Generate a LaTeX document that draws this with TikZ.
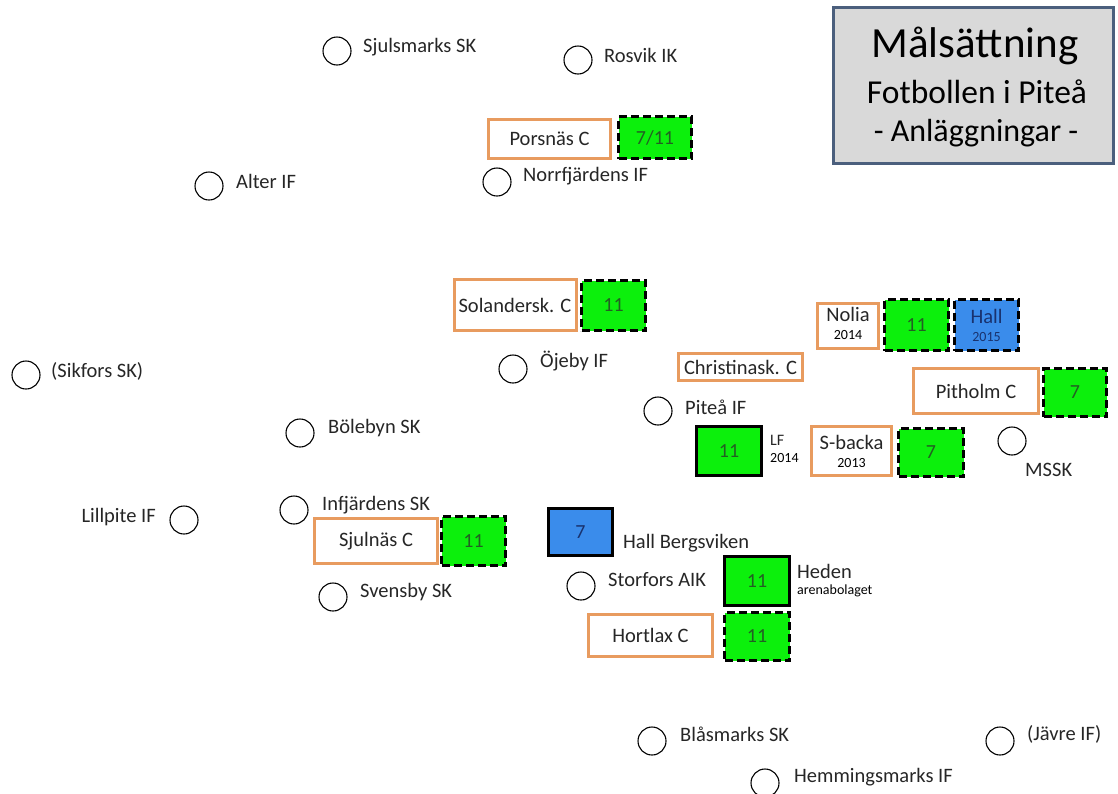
\documentclass[tikz,border=0pt]{standalone}
\usepackage{fontspec}
\setmainfont{Carlito}
\definecolor{centreorange}{RGB}{232,155,95}
\definecolor{fieldgreen}{RGB}{12,240,12}
\definecolor{hallblue}{RGB}{58,140,235}
\definecolor{numgreen}{RGB}{35,95,35}
\definecolor{numblue}{RGB}{25,50,110}
\definecolor{titlegray}{RGB}{217,217,217}
\definecolor{titleframe}{RGB}{75,95,125}

\begin{document}
\begin{tikzpicture}[x=1pt,y=-1pt,
        club/.style={circle, draw, line width=1.1pt, minimum size=28pt, inner sep=0pt},
        clubname/.style={anchor=west, inner sep=0pt, text=black!85, font=\fontsize{20.5}{23}\selectfont},
        small/.style={inner sep=0pt, font=\fontsize{14}{16}\selectfont},
        centre/.style={draw=centreorange, line width=3pt, fill=white, text=black!85, inner sep=0pt, font=\fontsize{20.5}{23}\selectfont},
        planned/.style={draw=black, line width=3pt, dash pattern=on 8pt off 4pt, fill=fieldgreen, text=numgreen, inner sep=0pt, font=\fontsize{20}{22}\selectfont},
        built/.style={draw=black, line width=3pt, fill=fieldgreen, text=numgreen, inner sep=0pt, font=\fontsize{20}{22}\selectfont}]
        \useasboundingbox (0,0) rectangle (1118,793);

        % rubrik
        \node[draw=titleframe, line width=3pt, fill=titlegray, minimum width=280pt, minimum height=156pt] (titlebox) at (973.5,85.5) {};
        \node[font=\fontsize{43}{46}\selectfont] (title) at (975,46) {Målsättning};
        \node[font=\fontsize{33.5}{36}\selectfont] (subtitle) at (977,92) {Fotbollen i Piteå};
        \node[font=\fontsize{32}{36}\selectfont] (subtitle2) at (976,133) {- Anläggningar -};

        % föreningar
        \node[club] (sjulsmarks) at (337,51) {};
        \node[clubname] (sjulsmarksL) at (363,47) {Sjulsmarks SK};
        \node[club] (rosvik) at (578,60) {};
        \node[clubname] (rosvikL) at (604,55) {Rosvik IK};
        \node[club] (alter) at (209,186) {};
        \node[clubname] (alterL) at (236,181) {Alter IF};
        \node[club] (norrfjarden) at (497,182) {};
        \node[clubname] (norrfjardenL) at (523,176) {Norrfjärdens IF};
        \node[club] (sikfors) at (26,375) {};
        \node[clubname] (sikforsL) at (51,371) {(Sikfors SK)};
        \node[club] (ojeby) at (513,369) {};
        \node[clubname] (ojebyL) at (540,361) {Öjeby IF};
        \node[club] (pitea) at (658,411) {};
        \node[clubname] (piteaL) at (685,407) {Piteå IF};
        \node[club] (bolebyn) at (300,433) {};
        \node[clubname] (bolebynL) at (328,428) {Bölebyn SK};
        \node[club] (mssk) at (1012,441) {};
        \node[clubname] (msskL) at (1025,470) {MSSK};
        \node[club] (lillpite) at (184,520) {};
        \node[clubname, anchor=east] (lillpiteL) at (156,517) {Lillpite IF};
        \node[club] (infjarden) at (294,510) {};
        \node[clubname] (infjardenL) at (322,505) {Infjärdens SK};
        \node[club] (svensby) at (333,597) {};
        \node[clubname] (svensbyL) at (360,592) {Svensby SK};
        \node[club] (storfors) at (581,586) {};
        \node[clubname] (storforsL) at (608,580) {Storfors AIK};
        \node[club] (blasmark) at (652,741) {};
        \node[clubname] (blasmarkL) at (680,734) {Blåsmarks SK};
        \node[club] (javre) at (1000,741) {};
        \node[clubname] (javreL) at (1027,734) {(Jävre IF)};
        \node[club] (hemmingsmark) at (765,783) {};
        \node[clubname] (hemmingsmarkL) at (794,777) {Hemmingsmarks IF};

        % centrumanläggningar
        \node[centre, minimum width=122pt, minimum height=39pt] (porsnas) at (549.5,139) {Porsnäs C};
        \node[planned, minimum width=73pt, minimum height=42pt] (porsnasF) at (655,137.5) {7/11};
        \node[centre, minimum width=122pt, minimum height=51pt] (solander) at (515,305) {Solandersk. C};
        \node[planned, minimum width=64pt, minimum height=50pt] (solanderF) at (613.5,305.5) {11};
        \node[centre, minimum width=61pt, minimum height=45pt] (nolia) at (848,326) {};
        \node[clubname, anchor=center] (noliaL) at (848,314) {Nolia};
        \node[small] (noliaY) at (848,335) {2014};
        \node[planned, minimum width=64pt, minimum height=51pt] (noliaF) at (916.5,325) {11};
        \node[planned, fill=hallblue, minimum width=64pt, minimum height=51pt] (noliaH) at (986.5,325) {};
        \node[clubname, anchor=center, text=numblue] (noliaHL) at (986.5,316) {Hall};
        \node[small, text=numblue] (noliaHY) at (986.5,337) {2015};
        \node[centre, minimum width=124pt, minimum height=27pt] (christina) at (740.5,367) {Christinask. C};
        \node[centre, minimum width=125pt, minimum height=45pt] (pitholm) at (976,391) {Pitholm C};
        \node[planned, minimum width=63pt, minimum height=48pt] (pitholmF) at (1075,392.5) {7};
        \node[built, minimum width=65pt, minimum height=49pt] (lf) at (729,451) {11};
        \node[clubname, font=\fontsize{16}{18}\selectfont] (lfL) at (770,440) {LF};
        \node[small, anchor=west] (lfY) at (770,458) {2014};
        \node[centre, minimum width=80pt, minimum height=49pt] (sbacka) at (851.5,451) {};
        \node[clubname, anchor=center] (sbackaL) at (851.5,442) {S-backa};
        \node[small] (sbackaY) at (851.5,463) {2013};
        \node[planned, minimum width=65pt, minimum height=48pt] (sbackaF) at (931,452.5) {7};
        \node[centre, minimum width=123pt, minimum height=45pt] (sjulnas) at (376,541) {Sjulnäs C};
        \node[planned, minimum width=64pt, minimum height=49pt] (sjulnasF) at (473.5,541) {11};
        \node[built, fill=hallblue, text=numblue, minimum width=64pt, minimum height=47pt] (bergsviken) at (580.5,532) {7};
        \node[clubname] (bergsvikenL) at (623,543) {Hall Bergsviken};
        \node[built, minimum width=65pt, minimum height=49pt] (heden) at (757,581) {11};
        \node[clubname] (hedenL) at (797,571) {Heden};
        \node[small, anchor=west] (hedenS) at (797,591) {arenabolaget};
        \node[centre, minimum width=124pt, minimum height=42pt] (hortlax) at (650.5,635.5) {Hortlax C};
        \node[planned, minimum width=65pt, minimum height=48pt] (hortlaxF) at (757,636.5) {11};
\end{tikzpicture}
\end{document}
